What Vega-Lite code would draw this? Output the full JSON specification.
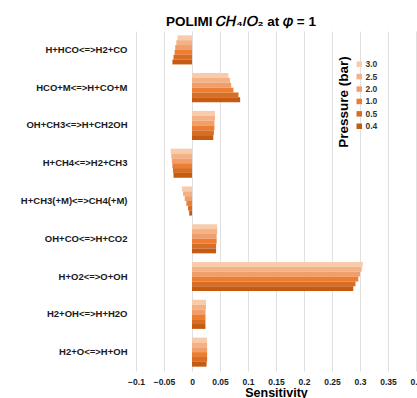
{
  "$schema": "https://vega.github.io/schema/vega-lite/v6.json",
  "autosize": "none",
  "width": 280,
  "height": 340,
  "padding": {"left": 136, "top": 31, "right": 1, "bottom": 27},
  "background": "white",
  "title": {
    "text": "POLIMI 𝐶𝐻₄/𝑂₂ at 𝜑 = 1",
    "font": "Liberation Sans",
    "fontSize": 13.5,
    "fontWeight": "bold",
    "color": "#000000",
    "anchor": "middle",
    "dx": -35,
    "offset": 3
  },
  "data": {
    "values": [
      {"r": "H+HCO<=>H2+CO", "p": "3.0", "s": -0.026},
      {"r": "H+HCO<=>H2+CO", "p": "2.5", "s": -0.028},
      {"r": "H+HCO<=>H2+CO", "p": "2.0", "s": -0.030},
      {"r": "H+HCO<=>H2+CO", "p": "1.0", "s": -0.031},
      {"r": "H+HCO<=>H2+CO", "p": "0.5", "s": -0.033},
      {"r": "H+HCO<=>H2+CO", "p": "0.4", "s": -0.035},
      {"r": "HCO+M<=>H+CO+M", "p": "3.0", "s": 0.065},
      {"r": "HCO+M<=>H+CO+M", "p": "2.5", "s": 0.068},
      {"r": "HCO+M<=>H+CO+M", "p": "2.0", "s": 0.070},
      {"r": "HCO+M<=>H+CO+M", "p": "1.0", "s": 0.074},
      {"r": "HCO+M<=>H+CO+M", "p": "0.5", "s": 0.083},
      {"r": "HCO+M<=>H+CO+M", "p": "0.4", "s": 0.086},
      {"r": "OH+CH3<=>H+CH2OH", "p": "3.0", "s": 0.041},
      {"r": "OH+CH3<=>H+CH2OH", "p": "2.5", "s": 0.041},
      {"r": "OH+CH3<=>H+CH2OH", "p": "2.0", "s": 0.040},
      {"r": "OH+CH3<=>H+CH2OH", "p": "1.0", "s": 0.040},
      {"r": "OH+CH3<=>H+CH2OH", "p": "0.5", "s": 0.039},
      {"r": "OH+CH3<=>H+CH2OH", "p": "0.4", "s": 0.038},
      {"r": "H+CH4<=>H2+CH3", "p": "3.0", "s": -0.038},
      {"r": "H+CH4<=>H2+CH3", "p": "2.5", "s": -0.037},
      {"r": "H+CH4<=>H2+CH3", "p": "2.0", "s": -0.036},
      {"r": "H+CH4<=>H2+CH3", "p": "1.0", "s": -0.035},
      {"r": "H+CH4<=>H2+CH3", "p": "0.5", "s": -0.034},
      {"r": "H+CH4<=>H2+CH3", "p": "0.4", "s": -0.033},
      {"r": "H+CH3(+M)<=>CH4(+M)", "p": "3.0", "s": -0.018},
      {"r": "H+CH3(+M)<=>CH4(+M)", "p": "2.5", "s": -0.016},
      {"r": "H+CH3(+M)<=>CH4(+M)", "p": "2.0", "s": -0.013},
      {"r": "H+CH3(+M)<=>CH4(+M)", "p": "1.0", "s": -0.010},
      {"r": "H+CH3(+M)<=>CH4(+M)", "p": "0.5", "s": -0.007},
      {"r": "H+CH3(+M)<=>CH4(+M)", "p": "0.4", "s": -0.005},
      {"r": "OH+CO<=>H+CO2", "p": "3.0", "s": 0.045},
      {"r": "OH+CO<=>H+CO2", "p": "2.5", "s": 0.045},
      {"r": "OH+CO<=>H+CO2", "p": "2.0", "s": 0.044},
      {"r": "OH+CO<=>H+CO2", "p": "1.0", "s": 0.044},
      {"r": "OH+CO<=>H+CO2", "p": "0.5", "s": 0.043},
      {"r": "OH+CO<=>H+CO2", "p": "0.4", "s": 0.043},
      {"r": "H+O2<=>O+OH", "p": "3.0", "s": 0.305},
      {"r": "H+O2<=>O+OH", "p": "2.5", "s": 0.303},
      {"r": "H+O2<=>O+OH", "p": "2.0", "s": 0.300},
      {"r": "H+O2<=>O+OH", "p": "1.0", "s": 0.297},
      {"r": "H+O2<=>O+OH", "p": "0.5", "s": 0.292},
      {"r": "H+O2<=>O+OH", "p": "0.4", "s": 0.288},
      {"r": "H2+OH<=>H+H2O", "p": "3.0", "s": 0.025},
      {"r": "H2+OH<=>H+H2O", "p": "2.5", "s": 0.025},
      {"r": "H2+OH<=>H+H2O", "p": "2.0", "s": 0.024},
      {"r": "H2+OH<=>H+H2O", "p": "1.0", "s": 0.024},
      {"r": "H2+OH<=>H+H2O", "p": "0.5", "s": 0.024},
      {"r": "H2+OH<=>H+H2O", "p": "0.4", "s": 0.024},
      {"r": "H2+O<=>H+OH", "p": "3.0", "s": 0.027},
      {"r": "H2+O<=>H+OH", "p": "2.5", "s": 0.027},
      {"r": "H2+O<=>H+OH", "p": "2.0", "s": 0.027},
      {"r": "H2+O<=>H+OH", "p": "1.0", "s": 0.027},
      {"r": "H2+O<=>H+OH", "p": "0.5", "s": 0.027},
      {"r": "H2+O<=>H+OH", "p": "0.4", "s": 0.026}
    ]
  },
  "mark": {"type": "bar"},
  "encoding": {
    "y": {
      "field": "r",
      "type": "nominal",
      "sort": null,
      "scale": {"paddingInner": 0.23, "paddingOuter": 0.115},
      "axis": {
        "title": null,
        "ticks": false,
        "domain": false,
        "grid": false,
        "labelFont": "Liberation Sans",
        "labelFontWeight": "bold",
        "labelFontSize": 9.5,
        "labelColor": "#1a1a1a",
        "labelPadding": 9
      }
    },
    "yOffset": {
      "field": "p",
      "type": "nominal",
      "sort": ["3.0", "2.5", "2.0", "1.0", "0.5", "0.4"],
      "scale": {"paddingInner": 0, "paddingOuter": 0}
    },
    "x": {
      "field": "s",
      "type": "quantitative",
      "scale": {"domain": [-0.1, 0.4], "nice": false, "zero": false},
      "axis": {
        "values": [-0.1, -0.05, 0, 0.05, 0.1, 0.15, 0.2, 0.25, 0.3, 0.35, 0.4],
        "format": ".2~f",
        "title": "Sensitivity",
        "titleFont": "Liberation Sans",
        "titleFontSize": 12.5,
        "titleFontWeight": "bold",
        "titleColor": "#000000",
        "titlePadding": 1,
        "ticks": false,
        "domain": false,
        "grid": true,
        "gridColor": "#e0e0e0",
        "gridWidth": 1,
        "labelFont": "Liberation Sans",
        "labelFontWeight": "bold",
        "labelFontSize": 8.5,
        "labelColor": "#1a1a1a",
        "labelPadding": 6,
        "labelFlush": false,
        "labelOverlap": false,
        "labelBound": false
      }
    },
    "color": {
      "field": "p",
      "type": "nominal",
      "sort": ["3.0", "2.5", "2.0", "1.0", "0.5", "0.4"],
      "scale": {
        "domain": ["3.0", "2.5", "2.0", "1.0", "0.5", "0.4"],
        "range": ["#f8cbad", "#f4b183", "#f09f6c", "#ed7d31", "#d86d25", "#c55a11"]
      },
      "legend": {
        "title": "Pressure (bar)",
        "orient": "none",
        "legendX": 201,
        "legendY": 29,
        "titleOrient": "left",
        "titleAnchor": "middle",
        "titleAlign": "center",
        "titleBaseline": "top",
        "titleFont": "Liberation Sans",
        "titleFontSize": 13.5,
        "titleFontWeight": "bold",
        "titleColor": "#000000",
        "titlePadding": 4,
        "symbolType": "square",
        "symbolSize": 30,
        "symbolStrokeWidth": 0,
        "labelFont": "Liberation Sans",
        "labelFontWeight": "bold",
        "labelFontSize": 8.5,
        "labelColor": "#333333",
        "rowPadding": 3.4,
        "labelOffset": 2,
        "encode": {
          "title": {"update": {"angle": {"value": -90}, "dx": {"value": -7}}}
        }
      }
    }
  },
  "config": {
    "view": {"stroke": null}
  }
}
